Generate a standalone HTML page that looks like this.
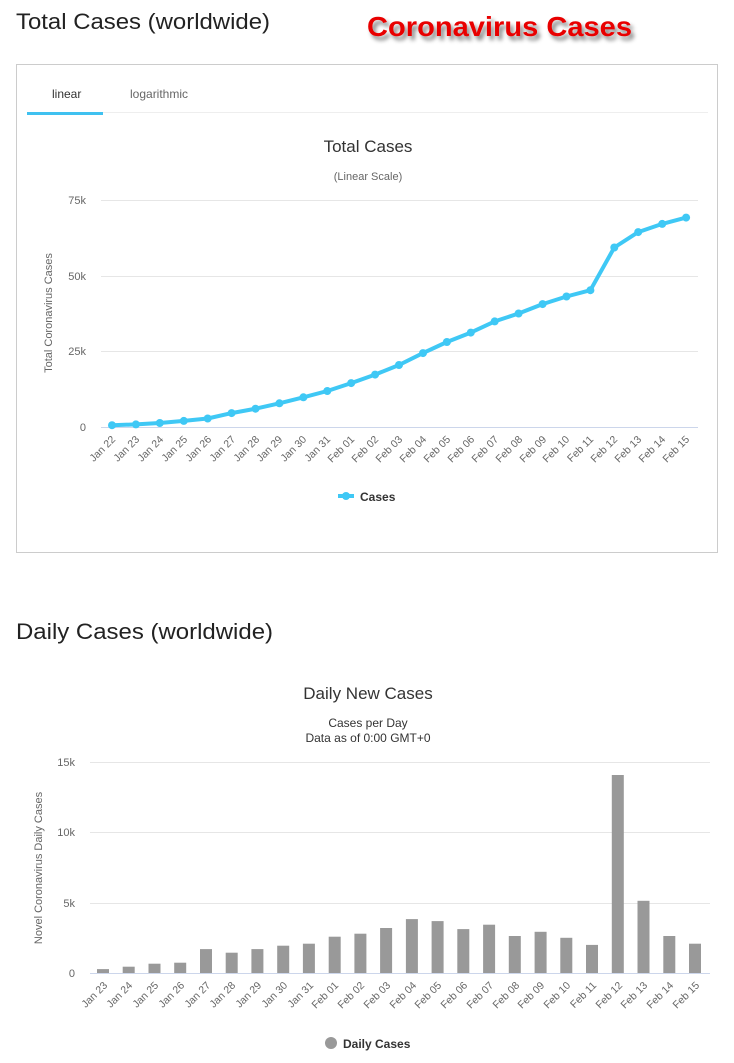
<!DOCTYPE html>
<html><head><meta charset="utf-8"><style>
body{margin:0;background:#fff;width:734px;height:1063px;overflow:hidden}
svg{display:block}
</style></head><body>
<svg width="734" height="1063" viewBox="0 0 734 1063" xmlns="http://www.w3.org/2000/svg" font-family="Liberation Sans, sans-serif">
<defs><filter id="sh" x="-10%" y="-30%" width="130%" height="180%"><feGaussianBlur in="SourceAlpha" stdDeviation="2"/><feOffset dx="3" dy="4"/><feComponentTransfer><feFuncA type="linear" slope="0.5"/></feComponentTransfer><feMerge><feMergeNode/><feMergeNode in="SourceGraphic"/></feMerge></filter></defs>
<text x="16" y="29" font-size="22" fill="#222" textLength="254" lengthAdjust="spacingAndGlyphs">Total Cases (worldwide)</text>
<text x="367" y="36" font-size="28" font-weight="bold" fill="#e80000" filter="url(#sh)" textLength="265" lengthAdjust="spacingAndGlyphs">Coronavirus Cases</text>
<rect x="16.5" y="64.5" width="701" height="488" fill="#fff" stroke="#ccc"/>
<text x="52" y="98" font-size="12" fill="#333">linear</text>
<text x="130" y="98" font-size="12" fill="#666">logarithmic</text>
<line x1="27" y1="112.5" x2="708" y2="112.5" stroke="#eee"/>
<rect x="27" y="112" width="76" height="3" fill="#3fc1f0"/>
<text x="368" y="152" font-size="17" fill="#333" text-anchor="middle">Total Cases</text>
<text x="368" y="180" font-size="11" fill="#666" text-anchor="middle">(Linear Scale)</text>
<g stroke="#e6e6e6"><line x1="101" y1="200.5" x2="698" y2="200.5"/><line x1="101" y1="276.5" x2="698" y2="276.5"/><line x1="101" y1="351.5" x2="698" y2="351.5"/></g>
<line x1="101" y1="427.5" x2="698" y2="427.5" stroke="#ccd6eb"/>
<g font-size="11" fill="#666" text-anchor="end"><text x="86" y="204">75k</text><text x="86" y="280">50k</text><text x="86" y="355">25k</text><text x="86" y="431">0</text></g>
<text transform="translate(52,313) rotate(-90)" font-size="11" fill="#666" text-anchor="middle">Total Coronavirus Cases</text>
<polyline fill="none" stroke="#3fc8f5" stroke-width="4" stroke-linejoin="round" points="112,425.2 135.9,424.4 159.8,423 183.8,420.9 207.7,418.5 231.6,413.1 255.5,408.7 279.4,403.3 303.4,397.3 327.3,391 351.2,383.1 375.1,374.6 399,365 423,353.1 446.9,342 470.8,332.6 494.7,321.4 518.6,313.5 542.6,304.1 566.5,296.5 590.4,290.2 614.3,247.5 638.2,232.1 662.2,223.9 686.1,217.6"/>
<g fill="#3fc8f5"><circle cx="112" cy="425.2" r="4"/><circle cx="135.9" cy="424.4" r="4"/><circle cx="159.8" cy="423" r="4"/><circle cx="183.8" cy="420.9" r="4"/><circle cx="207.7" cy="418.5" r="4"/><circle cx="231.6" cy="413.1" r="4"/><circle cx="255.5" cy="408.7" r="4"/><circle cx="279.4" cy="403.3" r="4"/><circle cx="303.4" cy="397.3" r="4"/><circle cx="327.3" cy="391" r="4"/><circle cx="351.2" cy="383.1" r="4"/><circle cx="375.1" cy="374.6" r="4"/><circle cx="399" cy="365" r="4"/><circle cx="423" cy="353.1" r="4"/><circle cx="446.9" cy="342" r="4"/><circle cx="470.8" cy="332.6" r="4"/><circle cx="494.7" cy="321.4" r="4"/><circle cx="518.6" cy="313.5" r="4"/><circle cx="542.6" cy="304.1" r="4"/><circle cx="566.5" cy="296.5" r="4"/><circle cx="590.4" cy="290.2" r="4"/><circle cx="614.3" cy="247.5" r="4"/><circle cx="638.2" cy="232.1" r="4"/><circle cx="662.2" cy="223.9" r="4"/><circle cx="686.1" cy="217.6" r="4"/></g>
<g font-size="10.5" fill="#666" text-anchor="end">
<text transform="translate(116,440) rotate(-45)">Jan 22</text>
<text transform="translate(140,440) rotate(-45)">Jan 23</text>
<text transform="translate(164,440) rotate(-45)">Jan 24</text>
<text transform="translate(188,440) rotate(-45)">Jan 25</text>
<text transform="translate(212,440) rotate(-45)">Jan 26</text>
<text transform="translate(236,440) rotate(-45)">Jan 27</text>
<text transform="translate(260,440) rotate(-45)">Jan 28</text>
<text transform="translate(283,440) rotate(-45)">Jan 29</text>
<text transform="translate(307,440) rotate(-45)">Jan 30</text>
<text transform="translate(331,440) rotate(-45)">Jan 31</text>
<text transform="translate(355,440) rotate(-45)">Feb 01</text>
<text transform="translate(379,440) rotate(-45)">Feb 02</text>
<text transform="translate(403,440) rotate(-45)">Feb 03</text>
<text transform="translate(427,440) rotate(-45)">Feb 04</text>
<text transform="translate(451,440) rotate(-45)">Feb 05</text>
<text transform="translate(475,440) rotate(-45)">Feb 06</text>
<text transform="translate(499,440) rotate(-45)">Feb 07</text>
<text transform="translate(523,440) rotate(-45)">Feb 08</text>
<text transform="translate(547,440) rotate(-45)">Feb 09</text>
<text transform="translate(570,440) rotate(-45)">Feb 10</text>
<text transform="translate(594,440) rotate(-45)">Feb 11</text>
<text transform="translate(618,440) rotate(-45)">Feb 12</text>
<text transform="translate(642,440) rotate(-45)">Feb 13</text>
<text transform="translate(666,440) rotate(-45)">Feb 14</text>
<text transform="translate(690,440) rotate(-45)">Feb 15</text>
</g>
<line x1="338" y1="496" x2="354" y2="496" stroke="#3fc8f5" stroke-width="4"/><circle cx="346" cy="496" r="4" fill="#3fc8f5"/>
<text x="360" y="501" font-size="12" font-weight="bold" fill="#333">Cases</text>

<text x="16" y="639" font-size="22" fill="#222" textLength="257" lengthAdjust="spacingAndGlyphs">Daily Cases (worldwide)</text>
<text x="368" y="699" font-size="17" fill="#333" text-anchor="middle">Daily New Cases</text>
<text x="368" y="727" font-size="12" fill="#333" text-anchor="middle">Cases per Day</text>
<text x="368" y="742" font-size="12" fill="#333" text-anchor="middle">Data as of 0:00 GMT+0</text>
<g stroke="#e6e6e6"><line x1="90" y1="762.5" x2="710" y2="762.5"/><line x1="90" y1="832.5" x2="710" y2="832.5"/><line x1="90" y1="903.5" x2="710" y2="903.5"/></g>
<line x1="90" y1="973.5" x2="710" y2="973.5" stroke="#ccd6eb"/>
<g font-size="11" fill="#666" text-anchor="end"><text x="75" y="766">15k</text><text x="75" y="836">10k</text><text x="75" y="907">5k</text><text x="75" y="977">0</text></g>
<text transform="translate(42,868) rotate(-90)" font-size="11" fill="#666" text-anchor="middle">Novel Coronavirus Daily Cases</text>
<g fill="#999">
<rect x="97" y="969.1" width="12" height="3.9"/>
<rect x="122.7" y="966.7" width="12" height="6.3"/>
<rect x="148.5" y="963.7" width="12" height="9.3"/>
<rect x="174.2" y="962.7" width="12" height="10.3"/>
<rect x="200" y="949.1" width="12" height="23.9"/>
<rect x="225.7" y="952.7" width="12" height="20.3"/>
<rect x="251.4" y="949.1" width="12" height="23.9"/>
<rect x="277.2" y="945.7" width="12" height="27.3"/>
<rect x="302.9" y="943.7" width="12" height="29.3"/>
<rect x="328.7" y="936.7" width="12" height="36.3"/>
<rect x="354.4" y="933.7" width="12" height="39.3"/>
<rect x="380.1" y="928" width="12" height="45"/>
<rect x="405.9" y="919.1" width="12" height="53.9"/>
<rect x="431.6" y="921.1" width="12" height="51.9"/>
<rect x="457.3" y="929.1" width="12" height="43.9"/>
<rect x="483.1" y="924.7" width="12" height="48.3"/>
<rect x="508.8" y="936" width="12" height="37"/>
<rect x="534.6" y="931.8" width="12" height="41.2"/>
<rect x="560.3" y="937.8" width="12" height="35.2"/>
<rect x="586" y="944.9" width="12" height="28.1"/>
<rect x="611.8" y="775" width="12" height="198"/>
<rect x="637.5" y="900.8" width="12" height="72.2"/>
<rect x="663.3" y="936" width="12" height="37"/>
<rect x="689" y="943.7" width="12" height="29.3"/>
</g>
<g font-size="10.5" fill="#666" text-anchor="end">
<text transform="translate(108,986) rotate(-45)">Jan 23</text>
<text transform="translate(133,986) rotate(-45)">Jan 24</text>
<text transform="translate(159,986) rotate(-45)">Jan 25</text>
<text transform="translate(185,986) rotate(-45)">Jan 26</text>
<text transform="translate(211,986) rotate(-45)">Jan 27</text>
<text transform="translate(236,986) rotate(-45)">Jan 28</text>
<text transform="translate(262,986) rotate(-45)">Jan 29</text>
<text transform="translate(288,986) rotate(-45)">Jan 30</text>
<text transform="translate(314,986) rotate(-45)">Jan 31</text>
<text transform="translate(339,986) rotate(-45)">Feb 01</text>
<text transform="translate(365,986) rotate(-45)">Feb 02</text>
<text transform="translate(391,986) rotate(-45)">Feb 03</text>
<text transform="translate(417,986) rotate(-45)">Feb 04</text>
<text transform="translate(442,986) rotate(-45)">Feb 05</text>
<text transform="translate(468,986) rotate(-45)">Feb 06</text>
<text transform="translate(494,986) rotate(-45)">Feb 07</text>
<text transform="translate(520,986) rotate(-45)">Feb 08</text>
<text transform="translate(545,986) rotate(-45)">Feb 09</text>
<text transform="translate(571,986) rotate(-45)">Feb 10</text>
<text transform="translate(597,986) rotate(-45)">Feb 11</text>
<text transform="translate(623,986) rotate(-45)">Feb 12</text>
<text transform="translate(648,986) rotate(-45)">Feb 13</text>
<text transform="translate(674,986) rotate(-45)">Feb 14</text>
<text transform="translate(700,986) rotate(-45)">Feb 15</text>
</g>
<circle cx="331" cy="1043" r="6" fill="#999"/>
<text x="343" y="1048" font-size="12" font-weight="bold" fill="#333">Daily Cases</text>
</svg>
</body></html>
